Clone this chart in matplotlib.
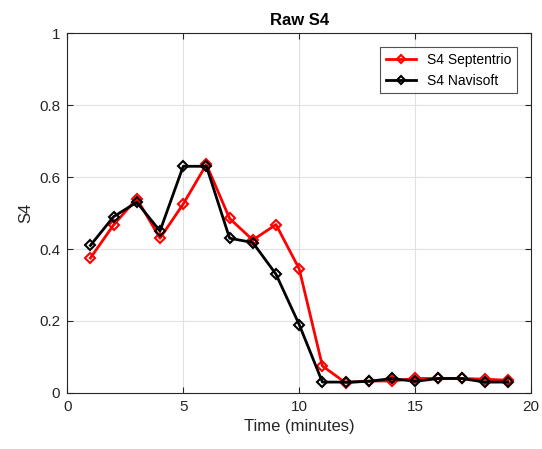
import matplotlib
matplotlib.use("Agg")
import matplotlib.pyplot as plt

plt.rcParams['font.family'] = ['Liberation Sans', 'DejaVu Sans']

# Data
minutes = list(range(1, 20))
s4_septentrio = [0.375, 0.467, 0.54, 0.43, 0.525, 0.635, 0.485, 0.425, 0.468, 0.345,
                 0.075, 0.028, 0.033, 0.033, 0.04, 0.04, 0.04, 0.038, 0.035]
s4_navisoft = [0.41, 0.49, 0.53, 0.45, 0.63, 0.63, 0.43, 0.418, 0.33, 0.19,
               0.03, 0.03, 0.032, 0.04, 0.032, 0.04, 0.04, 0.03, 0.03]

fig = plt.figure(figsize=(5.42, 4.49), dpi=100)
ax = fig.add_axes([0.124, 0.125, 0.856, 0.801])

ax.plot(minutes, s4_septentrio, color='red', lw=2, marker='D', ms=5.5,
        mfc='none', mew=1.5, label='S4 Septentrio')
ax.plot(minutes, s4_navisoft, color='black', lw=2, marker='D', ms=5.5,
        mfc='none', mew=1.5, label='S4 Navisoft')

ax.set_xlim(0, 20)
ax.set_ylim(0, 1)
ax.set_xticks([0, 5, 10, 15, 20])
ax.set_yticks([0, 0.2, 0.4, 0.6, 0.8, 1])
ax.set_yticklabels(['0', '0.2', '0.4', '0.6', '0.8', '1'])
ax.grid(True, color='#e0e0e0', lw=0.8)
ax.set_axisbelow(True)
ax.tick_params(direction='in', top=True, right=True, labelsize=11, colors='#262626',
               length=4, pad=5)
for sp in ax.spines.values():
    sp.set_color('#262626')
    sp.set_linewidth(0.8)

ax.set_xlabel('Time (minutes)', fontsize=12, color='#262626')
ax.set_ylabel('S4', fontsize=12, color='#262626')
ax.set_title('Raw S4', fontsize=12, fontweight='bold')

leg = ax.legend(loc='upper right', fontsize=10, fancybox=False, edgecolor='#262626',
                handlelength=2.2, borderaxespad=1.0, markerscale=0.8)
leg.get_frame().set_linewidth(0.8)

fig.savefig('out.png', dpi=100)
